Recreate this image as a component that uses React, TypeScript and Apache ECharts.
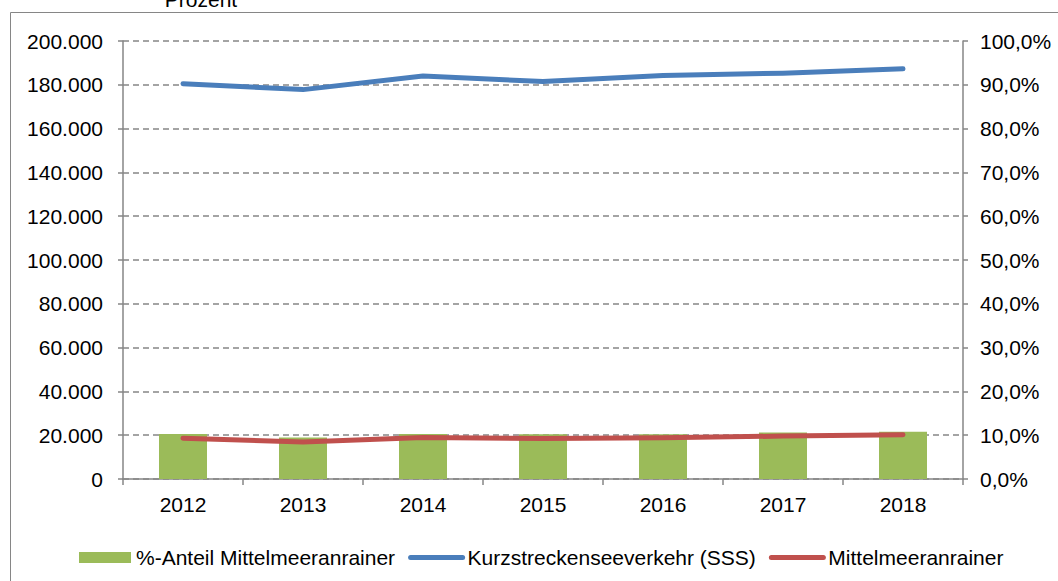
import React, { useEffect, useRef } from "react";
import * as echarts from "echarts";

const years = ["2012", "2013", "2014", "2015", "2016", "2017", "2018"];
const shareMediterranean = [10.3, 9.5, 10.3, 10.2, 10.2, 10.6, 10.8];
const shortSeaShipping = [180500, 177800, 184000, 181500, 184200, 185300, 187300];
const mediterranean = [18600, 16900, 19000, 18500, 18800, 19600, 20200];

const seriesNames = ["%-Anteil Mittelmeeranrainer", "Kurzstreckenseeverkehr (SSS)", "Mittelmeeranrainer"];
const FONT = "Liberation Sans, Arial, sans-serif";
const GRAY = "#868686";
const FS = 21;

function fmtThousands(v: number): string {
  return String(Math.round(v)).replace(/\B(?=(\d{3})+(?!\d))/g, ".");
}

export default function App() {
  const ref = useRef<HTMLDivElement>(null);
  useEffect(() => {
    if (!ref.current) return;
    const chart = echarts.init(ref.current, null, { renderer: "svg" });
    chart.setOption({
      animation: false,
      backgroundColor: "#ffffff",
      textStyle: { fontFamily: FONT },
      graphic: [
        {
          type: "rect",
          shape: { x: 10.5, y: 12.5, width: 1200, height: 800 },
          style: { fill: "none", stroke: GRAY, lineWidth: 1 },
          silent: true,
        },
        {
          type: "text",
          x: 201,
          y: 10,
          style: {
            text: "Prozent",
            fontSize: FS,
            fontFamily: FONT,
            fill: "#000",
            textAlign: "center",
            textVerticalAlign: "bottom",
          },
        },
      ],
      grid: { left: 123, right: 95, top: 41, bottom: 102, containLabel: false },
      legend: {
        left: 74,
        top: 542,
        itemWidth: 52,
        itemHeight: 11,
        itemGap: 13,
        textStyle: { fontSize: FS, fontFamily: FONT, color: "#000" },
        data: [
          { name: seriesNames[0], icon: "rect" },
          {
            name: seriesNames[1],
            itemStyle: { opacity: 0 },
            lineStyle: { width: 5, color: "#4A7EBB", cap: "round" },
          },
          {
            name: seriesNames[2],
            itemStyle: { opacity: 0 },
            lineStyle: { width: 5, color: "#C0504D", cap: "round" },
          },
        ],
      },
      xAxis: {
        type: "category",
        data: years,
        axisLine: { lineStyle: { color: GRAY, width: 1.5 } },
        axisTick: { show: true, length: 6, lineStyle: { color: GRAY, width: 1.5 } },
        axisLabel: { fontSize: FS, color: "#000", margin: 15, fontFamily: FONT },
      },
      yAxis: [
        {
          type: "value",
          min: 0,
          max: 200000,
          interval: 20000,
          axisLine: { show: true, lineStyle: { color: GRAY, width: 1.5 } },
          axisTick: { show: true, length: 5, lineStyle: { color: GRAY, width: 1.5 } },
          axisLabel: {
            fontSize: FS,
            color: "#000",
            margin: 20,
            fontFamily: FONT,
            formatter: (v: number) => fmtThousands(v),
          },
          splitLine: { show: true, lineStyle: { color: GRAY, type: [6, 4], width: 1.5 } },
        },
        {
          type: "value",
          min: 0,
          max: 100,
          interval: 10,
          position: "right",
          axisLine: { show: true, lineStyle: { color: GRAY, width: 1.5 } },
          axisTick: { show: true, length: 5, lineStyle: { color: GRAY, width: 1.5 } },
          axisLabel: {
            fontSize: FS,
            color: "#000",
            margin: 17,
            fontFamily: FONT,
            formatter: (v: number) => v.toFixed(1).replace(".", ",") + "%",
          },
          splitLine: { show: false },
        },
      ],
      series: [
        {
          name: seriesNames[0],
          type: "bar",
          yAxisIndex: 1,
          data: shareMediterranean,
          barWidth: 48,
          itemStyle: { color: "#9BBB59" },
        },
        {
          name: seriesNames[1],
          type: "line",
          yAxisIndex: 0,
          data: shortSeaShipping,
          symbol: "none",
          lineStyle: { color: "#4A7EBB", width: 5, cap: "round", join: "round" },
          itemStyle: { color: "#4A7EBB" },
        },
        {
          name: seriesNames[2],
          type: "line",
          yAxisIndex: 0,
          data: mediterranean,
          symbol: "none",
          lineStyle: { color: "#C0504D", width: 5, cap: "round", join: "round" },
          itemStyle: { color: "#C0504D" },
        },
      ],
    });
    return () => chart.dispose();
  }, []);
  return (
    <div
      ref={ref}
      style={{ position: "fixed", left: 0, top: 0, width: 1058, height: 581 }}
    />
  );
}
